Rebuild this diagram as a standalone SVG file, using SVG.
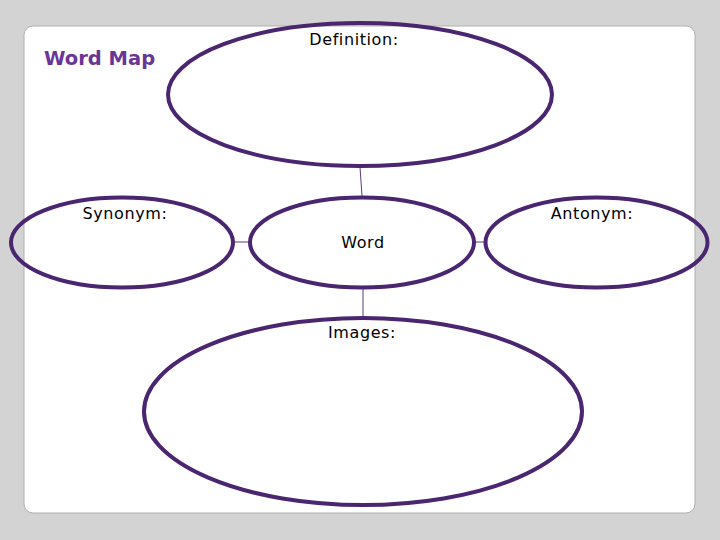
<svg xmlns="http://www.w3.org/2000/svg" width="720" height="540" viewBox="0 0 720 540">
<style>
.node ellipse{fill:none;stroke:#4a2570;stroke-width:4}
.lbl{font-family:"DejaVu Sans",Verdana,sans-serif;font-size:16px;fill:#000;letter-spacing:0.6px}
.conn line{stroke:#5a3a80;stroke-width:1}
</style>
<rect width="720" height="540" fill="#d3d3d3"/>
<rect x="24" y="26" width="671" height="487" rx="9" fill="#fff" stroke="#b0b0b0" stroke-width="1"/>
<text x="44" y="65" font-family="DejaVu Sans,Verdana,sans-serif" font-weight="bold" font-size="19.5" fill="#6a3596">Word Map</text>
<g class="conn" id="connectors">
<line x1="360" y1="167" x2="362" y2="196"/>
<line x1="234" y1="242" x2="250" y2="242"/>
<line x1="474" y1="242" x2="485" y2="242"/>
<line x1="363" y1="289" x2="363" y2="318"/>
</g>
<g class="node" id="definition">
<ellipse cx="360" cy="94.5" rx="192" ry="71.5"/>
<text class="lbl" x="354" y="45" text-anchor="middle">Definition:</text>
</g>
<g class="node" id="synonym">
<ellipse cx="122" cy="242.5" rx="111" ry="45"/>
<text class="lbl" x="125" y="219" text-anchor="middle">Synonym:</text>
</g>
<g class="node" id="word">
<ellipse cx="362" cy="242.5" rx="112" ry="45"/>
<text class="lbl" x="363" y="248" text-anchor="middle">Word</text>
</g>
<g class="node" id="antonym">
<ellipse cx="596.5" cy="242.5" rx="111" ry="45"/>
<text class="lbl" x="592" y="219" text-anchor="middle">Antonym:</text>
</g>
<g class="node" id="images">
<ellipse cx="363" cy="411.5" rx="219" ry="93.5"/>
<text class="lbl" x="362" y="338" text-anchor="middle">Images:</text>
</g>
</svg>
